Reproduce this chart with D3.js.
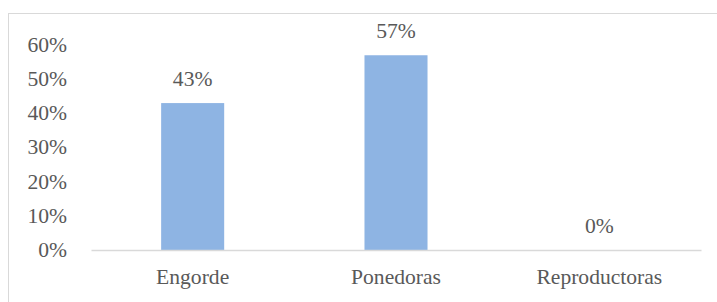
<!DOCTYPE html>
<html>
<head>
<meta charset="utf-8">
<script src="https://cdn.jsdelivr.net/npm/d3@7"></script>
<style>
  body { margin: 0; background: #fff; }
</style>
</head>
<body>
<div id="chart"></div>
<script>
var categories = ["Engorde", "Ponedoras", "Reproductoras"];
var values = [0.43, 0.57, 0];
var tickValues = [0, 0.1, 0.2, 0.3, 0.4, 0.5, 0.6];

var svgWidth = 717;
var svgHeight = 302;

var margin = { top: 45, right: 16, bottom: 52, left: 91 };
var chartWidth = svgWidth - margin.left - margin.right;
var chartHeight = svgHeight - margin.top - margin.bottom;

var fontFamily = "'Liberation Serif', 'Times New Roman', serif";
var textColor = '#595959';
var stretch = 1.08; // the picture text is a touch wider than normal

// font + slight horizontal stretch around the text's own x
function styleText(sel) {
    sel.attr('font-family', fontFamily)
        .style('font-family', fontFamily)
        .style('font-size', '20px')
        .style('fill', textColor)
        .attr('transform', function () {
            var x = +d3.select(this).attr('x') || 0;
            return `translate(${x},0) scale(${stretch},1) translate(${-x},0)`;
        })
        .each(function () { this.getComputedTextLength(); }); // make the font load now
}

var svg = d3.select('#chart').append('svg')
    .attr('width', svgWidth)
    .attr('height', svgHeight)
    .style('font-family', fontFamily);

// outer frame (right and bottom fall outside the picture)
svg.append('rect')
    .attr('x', 8.5)
    .attr('y', 13.5)
    .attr('width', 720)
    .attr('height', 300)
    .attr('fill', 'none')
    .attr('stroke', '#d9d9d9')
    .attr('stroke-width', 1);

var g = svg.append('g')
    .attr('transform', `translate(${margin.left}, ${margin.top})`);

var xScale = d3.scaleBand()
    .domain(categories)
    .range([0, chartWidth])
    .padding(0);

var yScale = d3.scaleLinear()
    .domain([0, 0.6])
    .range([chartHeight, 0]);

var barWidth = xScale.bandwidth() * 0.31;

// bars
g.selectAll('rect.bar')
    .data(values)
    .enter()
    .append('rect')
    .attr('class', 'bar')
    .attr('x', (d, i) => xScale(categories[i]) + xScale.bandwidth() / 2 - barWidth / 2)
    .attr('y', d => yScale(d))
    .attr('width', barWidth)
    .attr('height', d => chartHeight - yScale(d))
    .attr('fill', '#8eb4e3');

// data labels
g.selectAll('text.label')
    .data(values)
    .enter()
    .append('text')
    .attr('class', 'label')
    .attr('x', (d, i) => xScale(categories[i]) + xScale.bandwidth() / 2)
    .attr('y', d => yScale(d) - 17)
    .attr('text-anchor', 'middle')
    .text(d => Math.round(d * 100) + '%')
    .call(styleText);

// y axis labels
var yAxis = d3.axisLeft(yScale)
    .tickValues(tickValues)
    .tickFormat(d => Math.round(d * 100) + '%')
    .tickSize(0)
    .tickPadding(24);

var yG = g.append('g').call(yAxis).attr('font-family', fontFamily);
yG.select('.domain').remove();
yG.selectAll('text').call(styleText);

// x axis
var xAxis = d3.axisBottom(xScale).tickSize(0).tickPadding(20);
var xG = g.append('g')
    .attr('transform', `translate(0, ${chartHeight})`)
    .call(xAxis)
    .attr('font-family', fontFamily);
xG.select('.domain').attr('stroke', '#d9d9d9').attr('stroke-width', 1.5);
xG.selectAll('text').call(styleText);
</script>
</body>
</html>
